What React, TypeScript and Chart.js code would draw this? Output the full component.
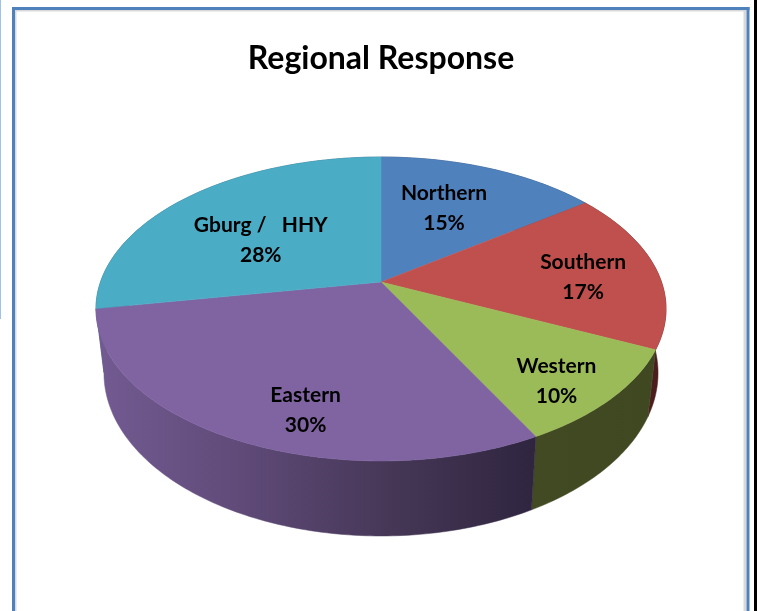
import React, { useEffect, useRef } from "react";
import { Chart, registerables, ArcElement, PieController } from "chart.js";

const titleText = "Regional Response";
const categories = ["Northern", "Southern", "Western", "Eastern", "Gburg /   HHY"];
const responseShare = [14.9, 17.1, 10.3, 29.9, 27.8];
const topColors = ["#4f81bd", "#c0504d", "#9bbb59", "#8064a2", "#4bacc6"];
const wallStops: string[][] = [
  ["#2a4568", "#2a4568"],
  ["#5a2524", "#4a1c1c"],
  ["#414a22", "#404822"],
  ["#735b92", "#5f4a78", "#463757", "#2f253f"],
  ["#2a6070", "#2a6070"],
];
const labelShift = [[-1, -7], [50, 3], [56, 39], [-1, 49], [-9, 7]];

const FONT = "Lato, Carlito, Calibri, sans-serif";
const APEX_X = 381, APEX_Y = 282, RADIUS = 280.5, PERSP = -0.1776, YSCALE = 97.1;
const DEPTH_SCALE = 0.972, DEPTH_BASE = 64, MID_Y = 308;

function project(theta: number, f = 1) {
  const ux = f * Math.sin(theta);
  const uy = -f * Math.cos(theta);
  const d = 1 + PERSP * uy;
  return { x: APEX_X + (RADIUS * ux) / d, y: (YSCALE * uy + APEX_Y) / d };
}
function dropped(p: { x: number; y: number }) {
  return {
    x: APEX_X + (p.x - APEX_X) * DEPTH_SCALE,
    y: p.y + DEPTH_BASE + (p.y - MID_Y) * 0.072,
  };
}
function rimPoints(startAngle: number, endAngle: number) {
  const a0 = startAngle + Math.PI / 2;
  const a1 = endAngle + Math.PI / 2;
  const n = Math.max(8, Math.ceil((a1 - a0) * 60));
  const pts: { x: number; y: number }[] = [];
  for (let i = 0; i <= n; i++) pts.push(project(a0 + ((a1 - a0) * i) / n));
  return pts;
}

class Arc3D extends ArcElement {
  static id = "arc3d";
  draw(ctx: CanvasRenderingContext2D) {
    const pts = rimPoints((this as any).startAngle, (this as any).endAngle);
    const fill = (this as any).options.backgroundColor;
    ctx.save();
    ctx.beginPath();
    ctx.moveTo(APEX_X, APEX_Y);
    pts.forEach((p) => ctx.lineTo(p.x, p.y));
    ctx.closePath();
    ctx.fillStyle = fill;
    ctx.strokeStyle = fill;
    ctx.lineWidth = 0.5;
    ctx.fill();
    ctx.stroke();
    ctx.restore();
  }
  drawWall(ctx: CanvasRenderingContext2D, stops: string[]) {
    const pts = rimPoints((this as any).startAngle, (this as any).endAngle);
    const low = pts.map(dropped);
    const xs = pts.concat(low).map((p) => p.x);
    const g = ctx.createLinearGradient(Math.min(...xs), 0, Math.max(...xs), 0);
    stops.forEach((c, i) => g.addColorStop(i / (stops.length - 1), c));
    ctx.save();
    ctx.beginPath();
    pts.forEach((p, i) => (i ? ctx.lineTo(p.x, p.y) : ctx.moveTo(p.x, p.y)));
    low.reverse().forEach((p) => ctx.lineTo(p.x, p.y));
    ctx.closePath();
    ctx.fillStyle = g;
    ctx.strokeStyle = g;
    ctx.lineWidth = 0.5;
    ctx.fill();
    ctx.stroke();
    ctx.restore();
  }
}

class Pie3DController extends PieController {
  static id = "pie3d";
  static defaults = { dataElementType: "arc3d" };
  draw() {
    const ctx = (this as any).chart.ctx;
    const arcs: any[] = (this as any).getMeta().data;
    const lowest = (a: any) => Math.max(...rimPoints(a.startAngle, a.endAngle).map((p) => p.y));
    arcs
      .map((a, i) => ({ a, i }))
      .sort((p, q) => lowest(p.a) - lowest(q.a))
      .forEach(({ a, i }) => a.drawWall(ctx, wallStops[i]));
    super.draw();
  }
}

const framePlugin = {
  id: "frame",
  beforeDraw(chart: any) {
    const ctx = chart.ctx;
    const { width: w, height: h } = chart;
    ctx.save();
    ctx.fillStyle = "#ffffff";
    ctx.fillRect(0, 0, w, h);
    ctx.fillStyle = "#9dc3e6";
    ctx.fillRect(0, 0, 1, 319);
    ctx.fillStyle = "#000000";
    ctx.fillRect(754, 0, 3, h);
    ctx.fillStyle = "#d9d9d9";
    ctx.fillRect(15, 10, 729, 1.5);
    ctx.fillRect(14.5, 10, 2, h - 10);
    ctx.fillRect(743.5, 10, 3, h - 10);
    ctx.fillStyle = "#4f81bd";
    ctx.fillRect(12, 7, 737.5, 3);
    ctx.fillRect(12, 7, 3, h - 7);
    ctx.fillRect(746.5, 7, 3, h - 7);
    ctx.restore();
  },
};

const labelPlugin = {
  id: "sliceLabels",
  afterDatasetsDraw(chart: any) {
    const ctx = chart.ctx;
    const arcs = chart.getDatasetMeta(0).data;
    ctx.save();
    ctx.font = `bold 21px ${FONT}`;
    ctx.fillStyle = "#000000";
    ctx.textAlign = "center";
    ctx.textBaseline = "middle";
    arcs.forEach((a: any, i: number) => {
      const mid = (a.startAngle + a.endAngle) / 2 + Math.PI / 2;
      const p = project(mid, 0.55);
      const x = p.x + labelShift[i][0];
      const y = p.y + labelShift[i][1];
      ctx.fillText(categories[i], x, y - 15);
      ctx.fillText(`${Math.round(responseShare[i])}%`, x, y + 15);
    });
    ctx.restore();
  },
};

Chart.register(...registerables, Arc3D as any, Pie3DController as any);

export default function App() {
  const ref = useRef<HTMLCanvasElement>(null);
  useEffect(() => {
    const chart = new Chart(ref.current as HTMLCanvasElement, {
      type: "pie3d" as any,
      data: {
        labels: categories,
        datasets: [{ data: responseShare, backgroundColor: topColors, borderWidth: 0 }],
      },
      options: {
        animation: false,
        responsive: false,
        layout: { padding: { left: 5 } },
        plugins: {
          legend: { display: false },
          tooltip: { enabled: false },
          title: {
            display: true,
            text: titleText,
            color: "#000000",
            font: { family: FONT, size: 32, weight: "bold" },
            padding: { top: 39, bottom: 10 },
          },
        },
      } as any,
      plugins: [framePlugin, labelPlugin],
    } as any);
    return () => chart.destroy();
  }, []);
  return (
    <canvas
      ref={ref}
      width={757}
      height={611}
      style={{ position: "fixed", left: 0, top: 0, display: "block" }}
    />
  );
}
